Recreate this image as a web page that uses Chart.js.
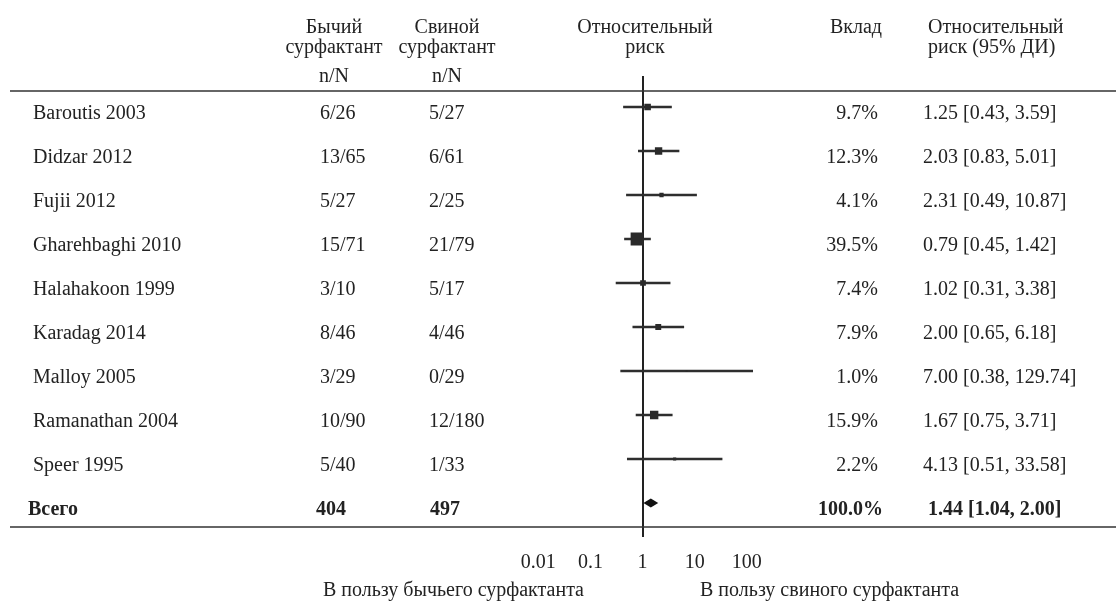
<!DOCTYPE html>
<html>
<head>
<meta charset="utf-8">
<script src="https://cdn.jsdelivr.net/npm/chart.js@4.4.1/dist/chart.umd.min.js"></script>
<style>
  html, body { margin: 0; padding: 0; background: #fff; }
  #wrap { width: 1116px; height: 601px; }
</style>
</head>
<body>
<div id="wrap"><canvas id="forest-canvas" width="1116" height="601"></canvas></div>
<script>
let studies  = ['Baroutis 2003', 'Didzar 2012', 'Fujii 2012', 'Gharehbaghi 2010', 'Halahakoon 1999',
                'Karadag 2014', 'Malloy 2005', 'Ramanathan 2004', 'Speer 1995'];
let bovine   = ['6/26', '13/65', '5/27', '15/71', '3/10', '8/46', '3/29', '10/90', '5/40'];
let porcine  = ['5/27', '6/61', '2/25', '21/79', '5/17', '4/46', '0/29', '12/180', '1/33'];
let weights  = [9.7, 12.3, 4.1, 39.5, 7.4, 7.9, 1.0, 15.9, 2.2];
let rr       = [1.25, 2.03, 2.31, 0.79, 1.02, 2.00, 7.00, 1.67, 4.13];
let ciLow    = [0.43, 0.83, 0.49, 0.45, 0.31, 0.65, 0.38, 0.75, 0.51];
let ciHigh   = [3.59, 5.01, 10.87, 1.42, 3.38, 6.18, 129.74, 3.71, 33.58];

let totalLabel   = 'Всего';
let totalBovine  = '404';
let totalPorcine = '497';
let totalWeight  = 100.0;
let totalRR      = [1.44, 1.04, 2.00];   // estimate, low, high

let tickValues = [0.01, 0.1, 1, 10, 100];
let tickLabels = ['0.01', '0.1', '1', '10', '100'];

let headBovine  = ['Бычий', 'сурфактант', 'n/N'];
let headPorcine = ['Свиной', 'сурфактант', 'n/N'];
let headRR      = ['Относительный', 'риск'];
let headWeight  = ['Вклад'];
let headCI      = ['Относительный', 'риск (95% ДИ)'];
let footLabels  = ['В пользу бычьего сурфактанта', 'В пользу свиного сурфактанта'];

const FONT = '"Liberation Serif", "Times New Roman", serif';
const INK = '#222';

function ciText(e, lo, hi) {
  return e.toFixed(2) + ' [' + lo.toFixed(2) + ', ' + hi.toFixed(2) + ']';
}

// text columns, rules and the pooled diamond
const forestText = {
  id: 'forestText',
  afterDraw(chart) {
    const {ctx, scales: {x, y}} = chart;
    ctx.save();
    ctx.fillStyle = INK;
    ctx.textBaseline = 'alphabetic';
    ctx.font = '20px ' + FONT;

    // headers
    const lines = [33, 53, 82];
    ctx.textAlign = 'center';
    headBovine.forEach((t, i) => ctx.fillText(t, 334, lines[i]));
    headPorcine.forEach((t, i) => ctx.fillText(t, 447, lines[i]));
    headRR.forEach((t, i) => ctx.fillText(t, 645, lines[i]));
    headWeight.forEach((t, i) => ctx.fillText(t, 856, lines[i]));
    ctx.textAlign = 'left';
    headCI.forEach((t, i) => ctx.fillText(t, 928, lines[i]));

    // study rows
    studies.forEach((s, i) => {
      const yy = y.getPixelForValue(i) + 11.5;
      ctx.textAlign = 'left';
      ctx.fillText(s, 33, yy);
      ctx.fillText(bovine[i], 320, yy);
      ctx.fillText(porcine[i], 429, yy);
      ctx.fillText(ciText(rr[i], ciLow[i], ciHigh[i]), 923, yy);
      ctx.textAlign = 'right';
      ctx.fillText(weights[i].toFixed(1) + '%', 878, yy);
    });

    // total row
    const ty = y.getPixelForValue(studies.length) + 11.5;
    ctx.font = 'bold 20px ' + FONT;
    ctx.textAlign = 'left';
    ctx.fillText(totalLabel, 28, ty);
    ctx.fillText(totalBovine, 316, ty);
    ctx.fillText(totalPorcine, 430, ty);
    ctx.fillText(ciText(totalRR[0], totalRR[1], totalRR[2]), 928, ty);
    ctx.textAlign = 'right';
    ctx.fillText(totalWeight.toFixed(1) + '%', 883, ty);

    // footer labels
    ctx.font = '20px ' + FONT;
    ctx.textAlign = 'right';
    ctx.fillText(footLabels[0], 584, 596);
    ctx.textAlign = 'left';
    ctx.fillText(footLabels[1], 700, 596);

    // horizontal rules
    ctx.strokeStyle = '#333';
    ctx.lineWidth = 1.6;
    [91, 527].forEach(h => {
      ctx.beginPath();
      ctx.moveTo(10, h);
      ctx.lineTo(1116, h);
      ctx.stroke();
    });

    // pooled diamond
    const cy = y.getPixelForValue(studies.length);
    const xe = x.getPixelForValue(Math.log10(totalRR[0]));
    const xl = x.getPixelForValue(Math.log10(totalRR[1]));
    const xh = x.getPixelForValue(Math.log10(totalRR[2]));
    ctx.fillStyle = '#111';
    ctx.beginPath();
    ctx.moveTo(xl, cy);
    ctx.lineTo(xe, cy - 4.5);
    ctx.lineTo(xh, cy);
    ctx.lineTo(xe, cy + 4.5);
    ctx.closePath();
    ctx.fill();
    ctx.restore();
  }
};

var ctx = document.getElementById('forest-canvas').getContext('2d');
window.forest = new Chart(ctx, {
  type: 'scatter',
  data: {
    datasets: [
      {
        type: 'scatter',
        label: 'RR',
        order: 0,
        data: studies.map((s, i) => ({x: Math.log10(rr[i]), y: i})),
        pointStyle: 'rect',
        pointRadius: weights.map(w => 2.1 * Math.sqrt(w) / Math.SQRT2),
        pointHoverRadius: weights.map(w => 2.1 * Math.sqrt(w) / Math.SQRT2),
        pointBackgroundColor: '#2a2a2a',
        pointBorderWidth: 0
      },
      {
        type: 'bar',
        label: '95% CI',
        order: 1,
        indexAxis: 'y',
        data: studies.map((s, i) => ({x: [Math.log10(ciLow[i]), Math.log10(ciHigh[i])], y: i})),
        backgroundColor: '#2e2e2e',
        borderWidth: 0,
        barThickness: 2
      }
    ]
  },
  options: {
    responsive: false,
    animation: false,
    events: [],
    layout: { padding: { top: 76, left: 0, right: 0, bottom: 0 } },
    plugins: {
      legend: { display: false },
      tooltip: { enabled: false },
      title: { display: false }
    },
    scales: {
      x: {
        type: 'linear',
        min: -644 / 53,
        max: 472 / 53,
        offset: false,
        afterBuildTicks: s => { s.ticks = tickValues.map(v => ({value: Math.log10(v)})); },
        afterFit: s => { s.height = 64; },
        ticks: {
          callback: (v, i) => tickLabels[i],
          font: { family: FONT, size: 20 },
          color: INK,
          padding: 14,
          maxRotation: 0,
          autoSkip: false
        },
        grid: {
          offset: false,
          color: c => (c.tick && c.tick.value === 0) ? '#222' : 'rgba(0,0,0,0)',
          lineWidth: 2,
          drawTicks: false
        },
        border: { display: false }
      },
      y: {
        type: 'linear',
        reverse: true,
        offset: false,
        min: -31 / 44,
        max: 430 / 44,
        grid: { offset: false },
        display: false
      }
    }
  },
  plugins: [forestText]
});
</script>
</body>
</html>
